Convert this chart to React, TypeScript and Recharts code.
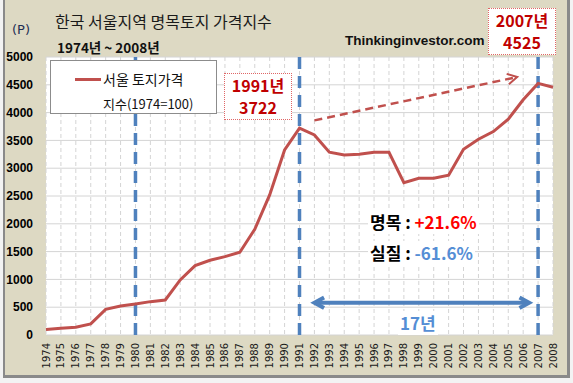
import { CartesianGrid, Line, LineChart, ReferenceLine, XAxis, YAxis } from "recharts";

const years = [
  1974, 1975, 1976, 1977, 1978, 1979, 1980, 1981, 1982, 1983, 1984, 1985,
  1986, 1987, 1988, 1989, 1990, 1991, 1992, 1993, 1994, 1995, 1996, 1997,
  1998, 1999, 2000, 2001, 2002, 2003, 2004, 2005, 2006, 2007, 2008,
];

// 서울 토지가격 지수 (1974=100)
const landIndex = [
  100, 120, 140, 200, 462, 522, 558, 600, 630, 990, 1247, 1344,
  1409, 1488, 1902, 2519, 3328, 3722, 3598, 3287, 3238, 3251, 3287, 3287,
  2740, 2819, 2819, 2873, 3341, 3521, 3658, 3881, 4230, 4525, 4456,
];

const yTicks = [0, 500, 1000, 1500, 2000, 2500, 3000, 3500, 4000, 4500, 5000];
const markYears = [1980, 1991, 2007];

const trendArrow = [
  { x: 1992, y: 3860 },
  { x: 2005.6, y: 4640 },
];
const spanArrow = [
  { x: 1992, y: 580 },
  { x: 2006.4, y: 580 },
];

const data = years.map((year, i) => ({ year, index: landIndex[i] }));

const RED = "#C0504D";
const BLUE = "#4F81BD";
const KR = "'Noto Sans CJK KR', sans-serif";

function YearTick(props: any) {
  const { x, y, payload } = props;
  const ty = y + 8;
  return (
    <text
      x={x}
      y={ty}
      transform={`rotate(-90 ${x} ${ty})`}
      textAnchor="end"
      dominantBaseline="central"
      fontFamily="'DejaVu Sans', sans-serif"
      fontSize={10}
      fill="#1a1a1a"
    >
      {payload.value}
    </text>
  );
}

function head(x: number, y: number, dx: number, dy: number, size: number) {
  const len = Math.hypot(dx, dy);
  const ux = dx / len;
  const uy = dy / len;
  const a = 0.5;
  const p1 = [x - size * (ux * Math.cos(a) - uy * Math.sin(a)), y - size * (uy * Math.cos(a) + ux * Math.sin(a))];
  const p2 = [x - size * (ux * Math.cos(a) + uy * Math.sin(a)), y - size * (uy * Math.cos(a) - ux * Math.sin(a))];
  return `M${p1[0]},${p1[1]} L${x},${y} L${p2[0]},${p2[1]}`;
}

function TrendShape(props: any) {
  const { x1, y1, x2, y2 } = props;
  return (
    <g>
      <line x1={x1} y1={y1} x2={x2} y2={y2} stroke={RED} strokeWidth={2.5} strokeDasharray="8 5" />
      <path d={head(x2, y2, x2 - x1, y2 - y1, 11)} fill="none" stroke={RED} strokeWidth={2} />
    </g>
  );
}

function SpanShape(props: any) {
  const { x1, y1, x2, y2 } = props;
  return (
    <g>
      <line x1={x1 + 2} y1={y1} x2={x2 - 2} y2={y2} stroke={BLUE} strokeWidth={4} />
      <path d={head(x2, y2, x2 - x1, 0, 11)} fill="none" stroke={BLUE} strokeWidth={4} />
      <path d={head(x1, y1, x1 - x2, 0, 11)} fill="none" stroke={BLUE} strokeWidth={4} />
    </g>
  );
}

const abs = (left: number, top: number, extra: any = {}) => ({
  position: "absolute" as const,
  left,
  top,
  whiteSpace: "nowrap" as const,
  ...extra,
});

export default function App() {
  return (
    <div style={{ position: "absolute", left: 0, top: 0, width: 573, height: 383, background: "#f3f3f3" }}>
      <div
        style={{
          position: "absolute",
          left: 3,
          top: 0,
          width: 562,
          height: 375,
          background: "#DDD9C3",
          borderLeft: "2px solid #8a8a8a",
          borderRight: "3px solid #8a8a8a",
          borderBottom: "3px solid #8a8a8a",
        }}
      />
      <div style={abs(0, 0)}>
        <LineChart width={573} height={383} data={data} margin={{ top: 57, right: 20, bottom: 0, left: 0 }}>
          <CartesianGrid vertical={false} stroke="#d4d4d4" fill="#ffffff" />
          <CartesianGrid horizontal={false} stroke="#d4d4d4" strokeDasharray="4 3" />
          <XAxis
            dataKey="year"
            type="number"
            domain={[1974, 2008]}
            ticks={years}
            interval={0}
            height={48}
            axisLine={false}
            tickLine={false}
            tickSize={0}
            tickMargin={0}
            tick={<YearTick />}
          />
          <YAxis
            domain={[0, 5000]}
            ticks={yTicks}
            width={46}
            axisLine={false}
            tickLine={false}
            tickSize={0}
            tickMargin={13}
            tick={{ fontFamily: "'Liberation Sans', Arial, sans-serif", fontWeight: "bold", fontSize: 12, fill: "#000" }}
          />
          {markYears.map((yr) => (
            <ReferenceLine key={yr} x={yr} stroke={BLUE} strokeWidth={3.5} strokeDasharray="12 7" />
          ))}
          <ReferenceLine segment={trendArrow} shape={<TrendShape />} />
          <ReferenceLine segment={spanArrow} shape={<SpanShape />} />
          <Line
            type="linear"
            dataKey="index"
            stroke={RED}
            strokeWidth={3}
            dot={false}
            isAnimationActive={false}
          />
        </LineChart>
      </div>

      <div style={abs(55, 9, { fontFamily: KR, fontSize: 16, color: "#1a1a1a" })}>한국 서울지역 명목토지 가격지수</div>
      <div style={abs(12, 22, { fontFamily: "'DejaVu Sans', sans-serif", fontSize: 13, color: "#1f2f55" })}>(P)</div>
      <div style={abs(57, 37, { fontFamily: KR, fontSize: 13.5, fontWeight: 700, color: "#111" })}>1974년 ~ 2008년</div>
      <div style={abs(345, 33, { fontFamily: "'Liberation Sans', Arial, sans-serif", fontSize: 13.5, fontWeight: 700, color: "#111" })}>
        Thinkinginvestor.com
      </div>

      <div style={abs(50, 60, { width: 165, height: 52, background: "#fff", border: "1px solid #8c8c8c" })}>
        <div style={abs(24, 17, { width: 26, height: 3, background: RED })} />
        <div style={abs(52, 8, { fontFamily: KR, fontSize: 14, color: "#111" })}>서울 토지가격</div>
        <div style={abs(52, 33, { fontFamily: KR, fontSize: 13, color: "#111" })}>지수(1974=100)</div>
      </div>

      {[
        { left: 224, top: 73, line1: "1991년", line2: "3722" },
        { left: 488, top: 8, line1: "2007년", line2: "4525" },
      ].map((b) => (
        <div
          key={b.line1}
          style={abs(b.left, b.top, {
            width: 66,
            height: 45,
            background: "#fff",
            border: "1px dotted #e06666",
            fontFamily: KR,
            fontSize: 16,
            fontWeight: 700,
            color: "#C00000",
            textAlign: "center",
            lineHeight: "23px",
          })}
        >
          <div style={{ height: 23 }}>{b.line1}</div>
          <div style={{ height: 23, marginTop: -1 }}>{b.line2}</div>
        </div>
      ))}

      <div style={abs(368, 210, { fontFamily: KR, fontSize: 17, fontWeight: 700, background: "#fff", padding: "0 2px", lineHeight: "24px" })}>
        <span style={{ color: "#000" }}>명목 : </span>
        <span style={{ color: "#FF0000" }}>+21.6%</span>
      </div>
      <div style={abs(368, 241, { fontFamily: KR, fontSize: 17, fontWeight: 700, background: "#fff", padding: "0 2px", lineHeight: "24px" })}>
        <span style={{ color: "#000" }}>실질 : </span>
        <span style={{ color: "#558ED5" }}>-61.6%</span>
      </div>
      <div style={abs(398, 311, { fontFamily: KR, fontSize: 17, fontWeight: 700, color: "#558ED5", background: "#fff", padding: "0 2px", lineHeight: "24px" })}>
        17년
      </div>
    </div>
  );
}
